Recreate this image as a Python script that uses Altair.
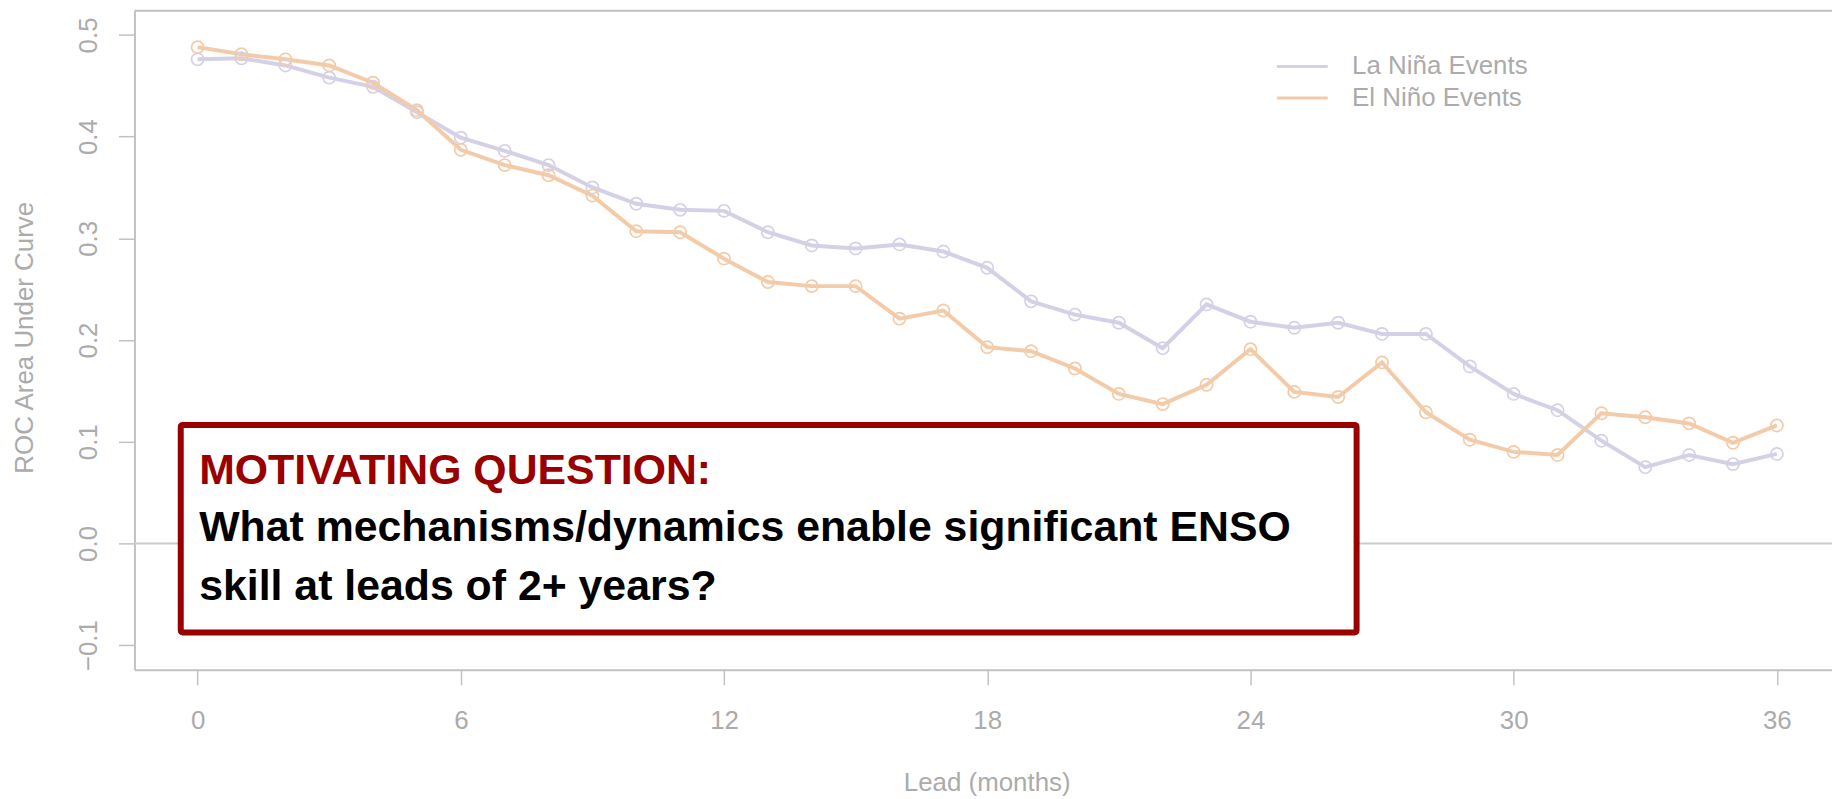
import altair as alt
import pandas as pd

# ---------------- data ----------------
leads = list(range(37))
la_nina = [0.476, 0.477, 0.470, 0.458, 0.449, 0.424, 0.399, 0.386, 0.372, 0.350,
           0.334, 0.328, 0.327, 0.306, 0.293, 0.290, 0.294, 0.287, 0.271, 0.238,
           0.225, 0.217, 0.192, 0.235, 0.218, 0.212, 0.217, 0.206, 0.206, 0.174,
           0.147, 0.131, 0.101, 0.075, 0.087, 0.078, 0.088]
el_nino = [0.488, 0.481, 0.476, 0.470, 0.453, 0.426, 0.387, 0.372, 0.362, 0.342,
           0.307, 0.306, 0.280, 0.257, 0.253, 0.253, 0.221, 0.229, 0.193, 0.189,
           0.172, 0.147, 0.137, 0.156, 0.191, 0.149, 0.144, 0.178, 0.129, 0.102,
           0.090, 0.087, 0.128, 0.124, 0.118, 0.099, 0.116]
series_names = ["La Niña Events", "El Niño Events"]
series_colors = ["#d4d1e7", "#f3cba8"]
x_ticks = [0, 6, 12, 18, 24, 30, 36]
y_ticks = [-0.1, 0.0, 0.1, 0.2, 0.3, 0.4, 0.5]
x_title = "Lead (months)"
y_title = "ROC Area Under Curve"
question_head = "MOTIVATING QUESTION:"
question_lines = ["What mechanisms/dynamics enable significant ENSO",
                  "skill at leads of 2+ years?"]

rows = []
for name, vals in zip(series_names, [la_nina, el_nino]):
    for l, v in zip(leads, vals):
        rows.append({"lead": l, "value": v, "series": name})
df = pd.DataFrame(rows)

FONT = "Liberation Sans"
AXIS_GRAY = "#c2c2c2"
TEXT_GRAY = "#ababab"
W, H = 1705, 662

xscale = alt.Scale(domain=[-1.44, 37.257], nice=False, zero=False)
yscale = alt.Scale(domain=[-0.1243, 0.5238], nice=False, zero=False)

x_axis = alt.Axis(values=x_ticks, format="d", grid=False, labelFlush=False,
                  tickSize=15, tickWidth=1.5, tickColor=AXIS_GRAY,
                  domainColor=AXIS_GRAY, domainWidth=2,
                  labelFontSize=26, labelColor=TEXT_GRAY, labelFont=FONT,
                  labelPadding=23, labelOverlap=False,
                  title=x_title, titleFont=FONT, titleFontSize=26,
                  titleFontWeight="normal", titleColor=TEXT_GRAY,
                  titleX=856, titleY=121, titleAlign="center",
                  titleBaseline="alphabetic")
y_axis = alt.Axis(values=y_ticks, format=".1f", grid=False,
                  tickSize=16, tickWidth=1.5, tickColor=AXIS_GRAY,
                  domainColor=AXIS_GRAY, domainWidth=2,
                  labelAngle=270, labelAlign="center", labelBaseline="alphabetic",
                  labelFontSize=26, labelColor=TEXT_GRAY, labelFont=FONT,
                  labelPadding=22, labelOverlap=False,
                  title=y_title, titleFont=FONT, titleFontSize=26,
                  titleFontWeight="normal", titleColor=TEXT_GRAY,
                  titleAngle=270, titleX=-102, titleY=328, titleAlign="center",
                  titleBaseline="alphabetic")

legend = alt.Legend(orient="none", legendX=1146, legendY=43, title=None,
                    symbolType="stroke", symbolSize=2601, symbolStrokeWidth=3,
                    symbolOpacity=1, labelFontSize=26, labelFont=FONT,
                    labelColor=TEXT_GRAY, labelOffset=23, clipHeight=26,
                    rowPadding=5.7, labelLimit=500, padding=0)
color = alt.Color("series:N", scale=alt.Scale(domain=series_names, range=series_colors),
                  legend=legend, sort=series_names)

base = alt.Chart(df).encode(
    x=alt.X("lead:Q", scale=xscale, axis=x_axis),
    y=alt.Y("value:Q", scale=yscale, axis=y_axis),
    color=color,
    order=alt.Order("lead:Q"),
)

one = pd.DataFrame({"k": [0]})

zero_line = alt.Chart(one).mark_rule(color="#cbcbcb", strokeWidth=2).encode(
    y=alt.datum(0))
top_line = alt.Chart(one).mark_rule(color=AXIS_GRAY, strokeWidth=2).encode(
    x=alt.value(0), x2=alt.value(W), y=alt.value(0))

lines = base.mark_line(strokeWidth=4)
points = base.mark_point(shape="circle", filled=False, size=150, strokeWidth=1.7, opacity=1)

box = alt.Chart(one).mark_rect(fill="white", stroke="#990000", strokeWidth=6,
                               cornerRadius=2).encode(
    x=alt.value(46.5), x2=alt.value(1227.5), y=alt.value(416), y2=alt.value(624.5))

head = alt.Chart(one).mark_text(align="left", baseline="alphabetic", font=FONT,
                                fontSize=43, fontWeight="bold", color="#990000").encode(
    x=alt.value(65), y=alt.value(475), text=alt.value(question_head))
q1 = alt.Chart(one).mark_text(align="left", baseline="alphabetic", font=FONT,
                              fontSize=43, fontWeight="bold", color="#000000").encode(
    x=alt.value(65), y=alt.value(533), text=alt.value(question_lines[0]))
q2 = alt.Chart(one).mark_text(align="left", baseline="alphabetic", font=FONT,
                              fontSize=43, fontWeight="bold", color="#000000").encode(
    x=alt.value(65), y=alt.value(592), text=alt.value(question_lines[1]))

chart = alt.layer(zero_line, top_line, lines, points, box, head, q1, q2).properties(
    width=W, height=H,
    autosize=alt.AutoSizeParams(type="none"),
    padding={"left": 127, "top": 1, "right": 0, "bottom": 126},
).configure_view(stroke=None).configure(font=FONT)

chart.save("out.html", embed_options={"renderer": "svg", "actions": False})
